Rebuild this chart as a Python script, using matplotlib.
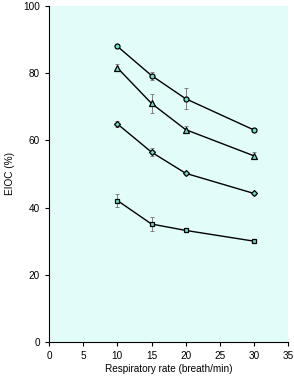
import matplotlib
matplotlib.use("Agg")
import matplotlib.pyplot as plt

# respiratory rate (breath/min)
rates = [10, 15, 20, 30]

# EIOC (%) per series, with error bar half-widths
circle_vals = [88.0, 79.3, 72.4, 63.1]
circle_err = [0.5, 1.2, 3.1, 0.5]
triangle_vals = [81.6, 71.0, 63.2, 55.4]
triangle_err = [1.0, 2.8, 1.0, 1.0]
diamond_vals = [64.9, 56.5, 50.2, 44.2]
diamond_err = [1.0, 1.2, 0.5, 0.5]
square_vals = [42.1, 35.1, 33.2, 30.0]
square_err = [1.8, 2.0, 0.4, 0.4]

series = [
    (circle_vals, circle_err, "o", 3.6),
    (triangle_vals, triangle_err, "^", 3.8),
    (diamond_vals, diamond_err, "D", 3.0),
    (square_vals, square_err, "s", 3.2),
]

plt.rcParams["font.family"] = ["Liberation Sans", "DejaVu Sans"]

fig = plt.figure(figsize=(2.94, 3.77), dpi=100)
ax = fig.add_axes([0.167, 0.093, 0.813, 0.891])
ax.set_facecolor("#e2fdf9")

for vals, err, mk, ms in series:
    ax.errorbar(rates, vals, yerr=err, fmt="none", ecolor="#808080",
                elinewidth=0.7, capsize=1.5, capthick=0.7, zorder=2)
    ax.plot(rates, vals, color="black", lw=1.0, marker=mk, ms=ms,
            mfc="#6fdcc4", mec="black", mew=0.9, zorder=3)

ax.set_xlim(0, 35)
ax.set_ylim(0, 100)
ax.set_xticks(range(0, 36, 5))
ax.set_yticks(range(0, 101, 20))
ax.spines["top"].set_visible(False)
ax.spines["right"].set_visible(False)
ax.tick_params(labelsize=7.2, length=3, width=0.8)
ax.set_xlabel("Respiratory rate (breath/min)", fontsize=7.2, labelpad=2)
ax.set_ylabel("EIOC (%)", fontsize=7.2, labelpad=6)

fig.savefig("out.png", dpi=100)
